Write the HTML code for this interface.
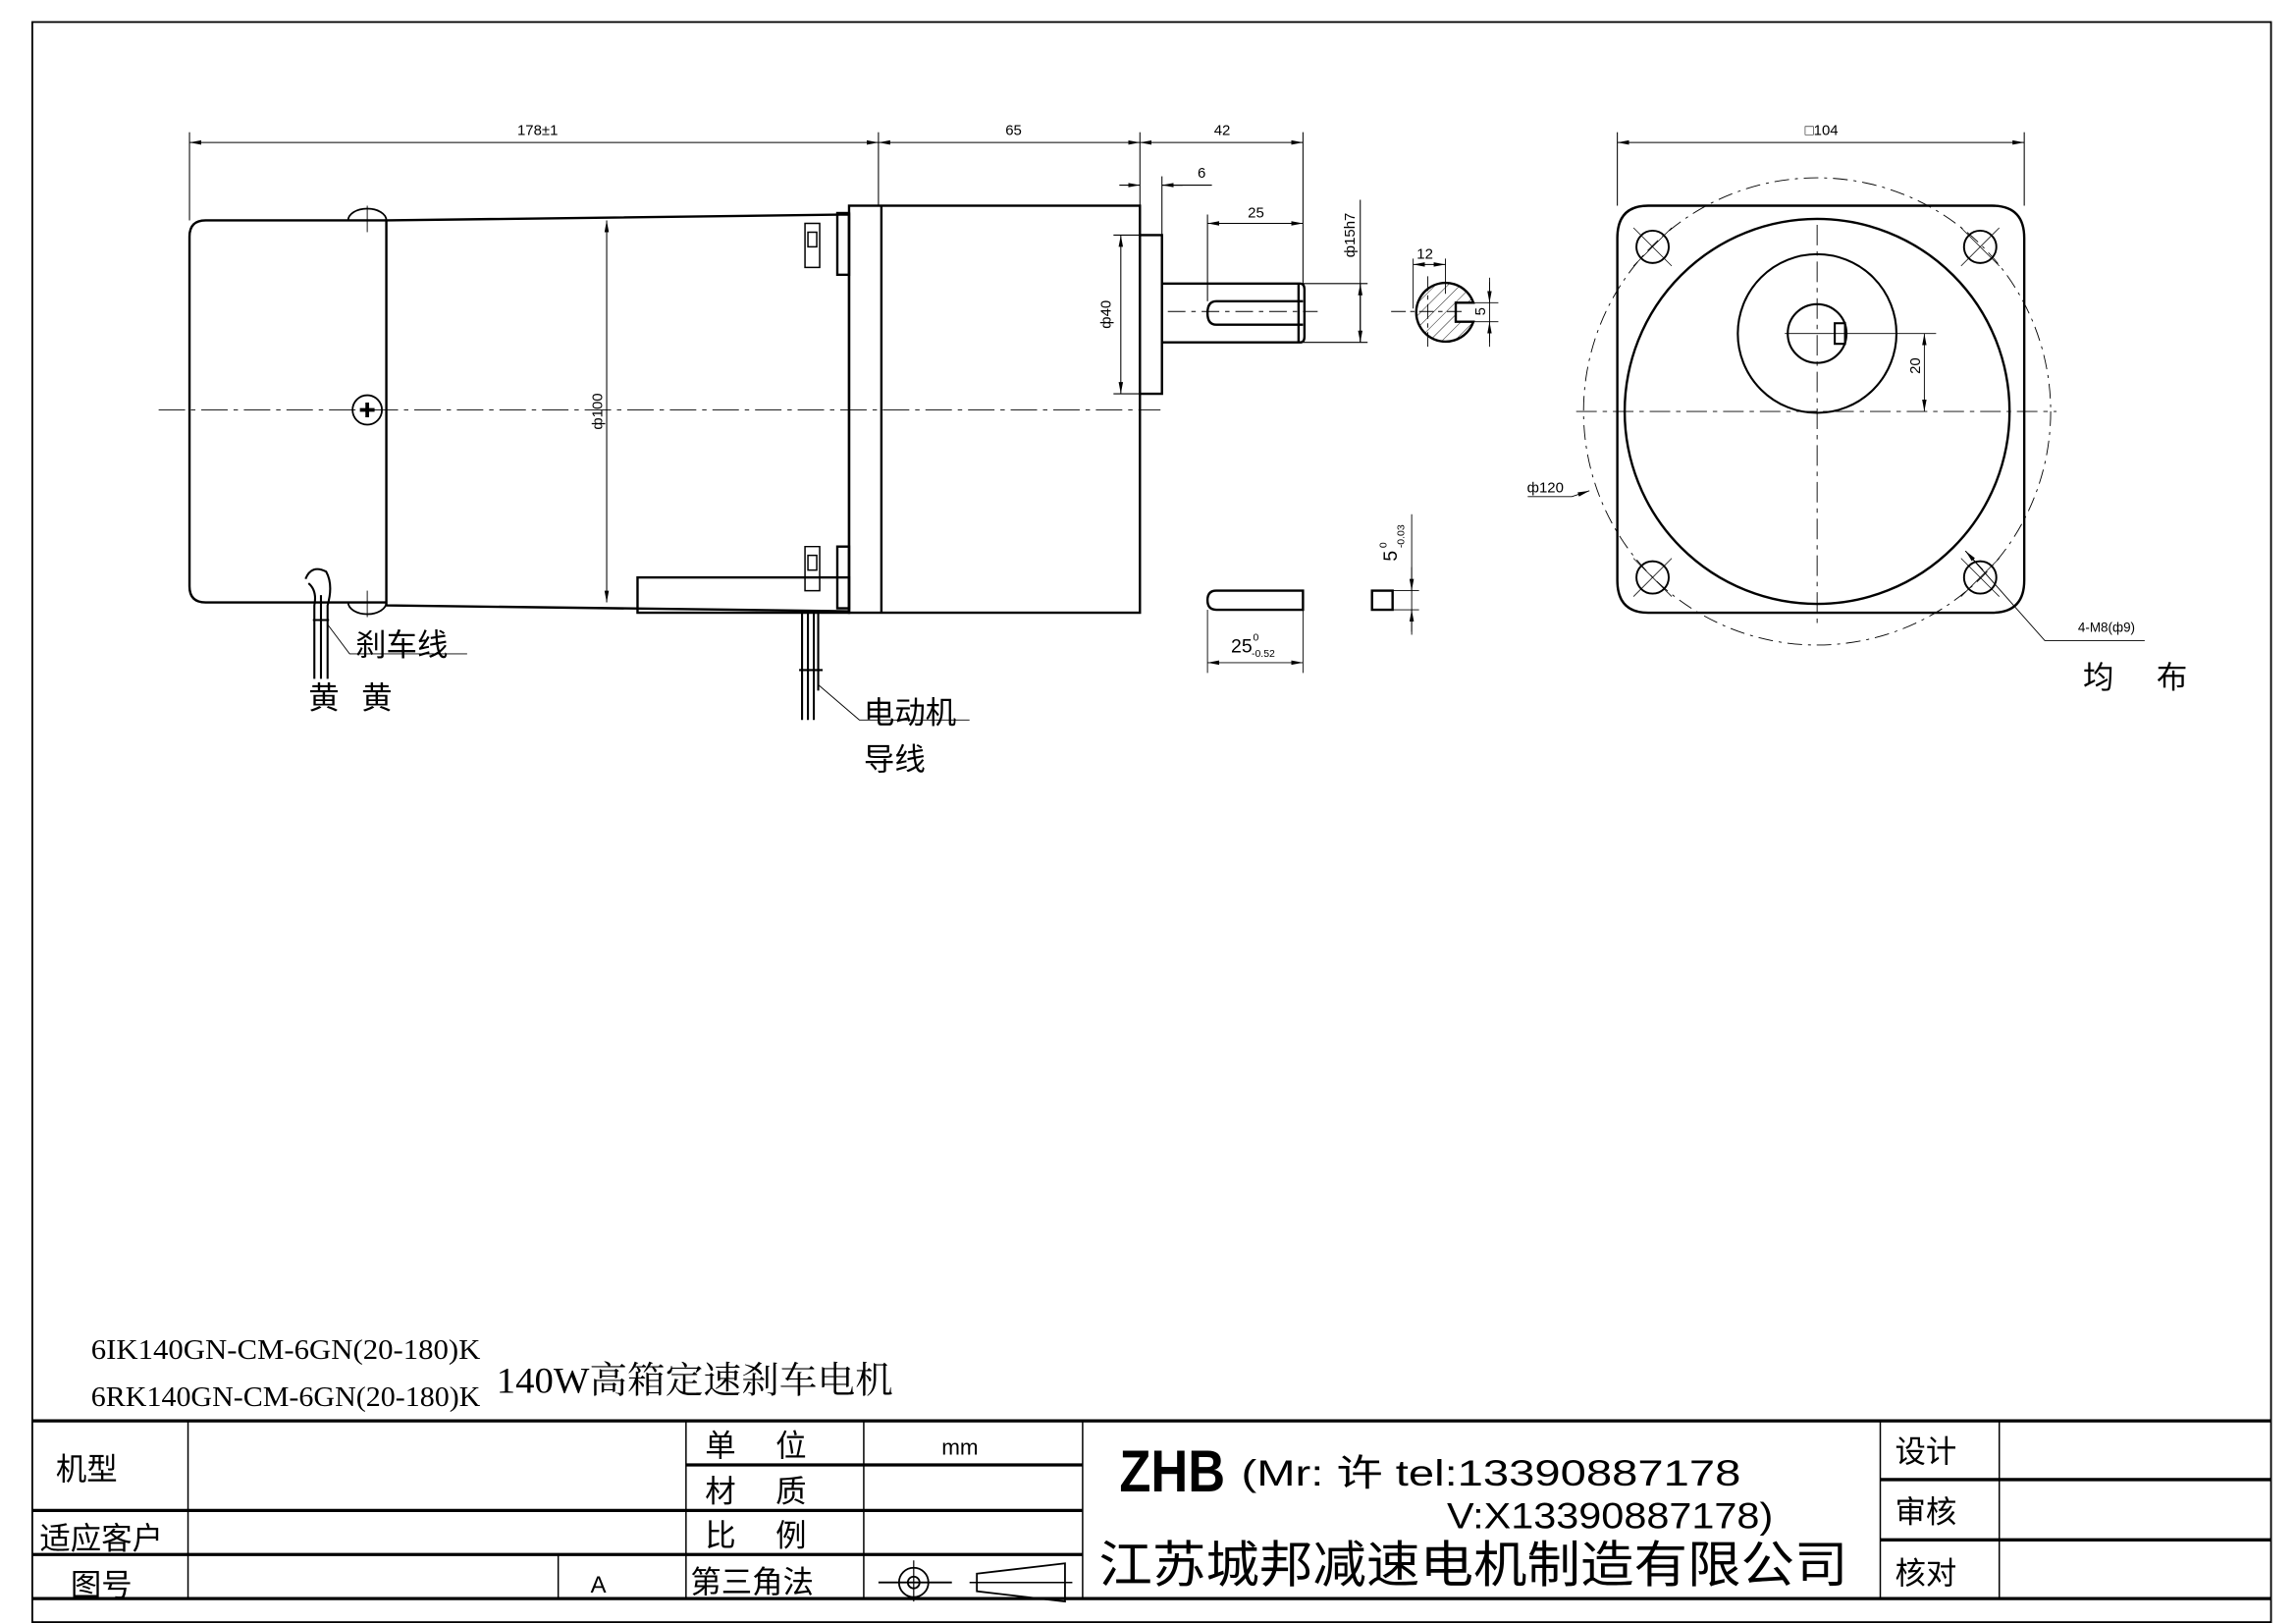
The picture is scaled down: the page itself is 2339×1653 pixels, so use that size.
<!DOCTYPE html>
<html><head><meta charset="utf-8"><style>
html,body{margin:0;padding:0;background:#fff}
svg{display:block}
text{font-family:"Liberation Sans","Noto Sans CJK SC",sans-serif;fill:#000}
.s{font-family:"Liberation Serif","Noto Serif CJK SC",serif}
</style></head><body>
<svg width="2339" height="1653" viewBox="0 0 1563 1104.6" preserveAspectRatio="none" xmlns="http://www.w3.org/2000/svg">
<defs>
<marker id="a" markerWidth="8" markerHeight="4" refX="8" refY="2" orient="auto-start-reverse" markerUnits="userSpaceOnUse"><path d="M0,0.5 L8,2 L0,3.5z" fill="#000"/></marker>
<pattern id="h" width="6" height="6" patternUnits="userSpaceOnUse" patternTransform="rotate(45)"><line x1="0" y1="0" x2="0" y2="6" stroke="#000" stroke-width="0.6"/></pattern>
</defs>
<g fill="none" stroke="#000">
<rect x="22" y="15" width="1524" height="1089" stroke-width="1.2"/>
<g stroke-width="2.2">
<line x1="22" y1="967" x2="1546" y2="967"/>
<line x1="22" y1="1088" x2="1546" y2="1088"/>
<line x1="467" y1="997" x2="737" y2="997"/>
<line x1="22" y1="1028" x2="737" y2="1028"/>
<line x1="22" y1="1058" x2="737" y2="1058"/>
<line x1="1280" y1="1007" x2="1546" y2="1007"/>
<line x1="1280" y1="1048" x2="1546" y2="1048"/>
</g>
<g stroke-width="1">
<line x1="128" y1="967" x2="128" y2="1088"/>
<line x1="380" y1="1058" x2="380" y2="1088"/>
<line x1="467" y1="967" x2="467" y2="1088"/>
<line x1="588" y1="967" x2="588" y2="1088"/>
<line x1="737" y1="967" x2="737" y2="1088"/>
<line x1="1280" y1="967" x2="1280" y2="1088"/>
<line x1="1361" y1="967" x2="1361" y2="1088"/>
</g>
<circle cx="622" cy="1077" r="10" stroke-width="1.2"/>
<circle cx="622" cy="1077" r="4" stroke-width="1.2"/>
<line x1="598" y1="1077" x2="648" y2="1077" stroke-width="1.2"/>
<line x1="622" y1="1062" x2="622" y2="1090" stroke-width="0.8"/>
<path d="M665,1071 L725,1064 L725,1090 L665,1083z" stroke-width="1.2"/>
<line x1="660" y1="1077" x2="730" y2="1077" stroke-width="1"/>

<g stroke-width="0.7">
<line x1="129" y1="90" x2="129" y2="150"/>
<line x1="598" y1="90" x2="598" y2="140"/>
<line x1="776" y1="90" x2="776" y2="140"/>
<line x1="887" y1="90" x2="887" y2="193"/>
<line x1="129" y1="97" x2="598" y2="97" marker-start="url(#a)" marker-end="url(#a)"/>
<line x1="598" y1="97" x2="776" y2="97" marker-start="url(#a)" marker-end="url(#a)"/>
<line x1="776" y1="97" x2="887" y2="97" marker-start="url(#a)" marker-end="url(#a)"/>
<line x1="791" y1="120" x2="791" y2="160"/>
<line x1="762" y1="126" x2="776" y2="126" marker-end="url(#a)"/>
<line x1="805" y1="126" x2="791" y2="126" marker-end="url(#a)"/>
<line x1="791" y1="126" x2="825" y2="126"/>
<line x1="822" y1="146" x2="822" y2="205"/>
<line x1="822" y1="152" x2="887" y2="152" marker-start="url(#a)" marker-end="url(#a)"/>
<line x1="413" y1="150" x2="413" y2="410" marker-start="url(#a)" marker-end="url(#a)"/>
<line x1="758" y1="160" x2="776" y2="160"/>
<line x1="758" y1="268" x2="776" y2="268"/>
<line x1="763" y1="160" x2="763" y2="268" marker-start="url(#a)" marker-end="url(#a)"/>
<line x1="887" y1="193" x2="931" y2="193"/>
<line x1="887" y1="233" x2="931" y2="233"/>
<line x1="926" y1="136" x2="926" y2="233"/>
<line x1="926" y1="193" x2="926" y2="233" marker-start="url(#a)" marker-end="url(#a)"/>
</g>
<line x1="108" y1="279" x2="790" y2="279" stroke-width="0.6" stroke-dasharray="18,4,3,4"/>
<line x1="795" y1="212" x2="897" y2="212" stroke-width="0.6" stroke-dasharray="12,4,3,4"/>

<g stroke-width="1.6">
<path d="M263,150 L140,150 Q129,150 129,161 L129,399 Q129,410 140,410 L263,410"/>
<path d="M263,150 L578,146 L578,416 L263,412 Z"/>
<rect x="578" y="140" width="198" height="277"/>
<line x1="600" y1="140" x2="600" y2="417"/>
<rect x="570" y="145" width="8" height="42"/>
<rect x="570" y="372" width="8" height="42"/>
<rect x="776" y="160" width="15" height="108"/>
<path d="M791,193 L885,193 Q888,193 888,197 L888,229 Q888,233 885,233 L791,233"/>
<line x1="884" y1="193" x2="884" y2="233"/>
<path d="M887,205 L828,205 Q822,205 822,213 Q822,221 828,221 L887,221"/>
<rect x="434" y="393" width="144" height="24"/>
<path d="M548,152 h10 v30 h-10z M550,158 h6 v10 h-6z" stroke-width="1"/>
<path d="M548,372 h10 v30 h-10z M550,378 h6 v10 h-6z" stroke-width="1"/>
</g>
<g stroke-width="1.2">
<path d="M237,150 A13,8 0 0 1 263,150 Z"/>
<path d="M237,410 A13,8 0 0 0 263,410 Z"/>
<circle cx="250" cy="279" r="10"/>
<path d="M245,279 h10 M250,274 v10" stroke-width="2.5"/>
<line x1="250" y1="140" x2="250" y2="158" stroke-width="0.6"/>
<line x1="250" y1="402" x2="250" y2="420" stroke-width="0.6"/>
</g>
<g stroke-width="1.4">
<path d="M208,394 Q212,384 222,389 Q227,398 223,412 L223,462"/>
<path d="M210,397 Q216,402 214,412 L214,462"/>
<line x1="218.5" y1="405" x2="218.5" y2="462"/>
<line x1="213" y1="422" x2="224" y2="422"/>
<path d="M223,425 L238,445 L318,445" stroke-width="0.6"/>
</g>
<g stroke-width="1.4">
<path d="M546,417 L546,490 M550,417 L550,490 M554,417 L554,490 M557,417 L557,470"/>
<line x1="544" y1="456" x2="560" y2="456"/>
<path d="M557,466 L585,490 L660,490" stroke-width="0.6"/>
</g>

<path d="M1003,206 A20,20 0 1 0 1003,219 L991,219 L991,206 Z" fill="url(#h)" stroke-width="1.6"/>
<g stroke-width="0.6">
<line x1="947" y1="212" x2="996" y2="212" stroke-dasharray="10,3,3,3"/>
<line x1="972" y1="188" x2="972" y2="238" stroke-dasharray="10,3,3,3"/>
<line x1="962" y1="176" x2="962" y2="210"/>
<line x1="984" y1="176" x2="984" y2="200"/>
<line x1="962" y1="180" x2="984" y2="180" marker-start="url(#a)" marker-end="url(#a)"/>
<line x1="991" y1="206" x2="1020" y2="206"/>
<line x1="991" y1="219" x2="1020" y2="219"/>
<line x1="1014" y1="189" x2="1014" y2="236"/>
<line x1="1014" y1="192" x2="1014" y2="206" marker-end="url(#a)"/>
<line x1="1014" y1="233" x2="1014" y2="219" marker-end="url(#a)"/>
</g>
<path d="M887,402 L828,402 Q822,402 822,408.5 Q822,415 828,415 L887,415 Z" stroke-width="1.6"/>
<g stroke-width="0.6">
<line x1="822" y1="415" x2="822" y2="458"/>
<line x1="887" y1="415" x2="887" y2="458"/>
<line x1="822" y1="451" x2="887" y2="451" marker-start="url(#a)" marker-end="url(#a)"/>
</g>
<rect x="934" y="402" width="14" height="13" stroke-width="1.6"/>
<g stroke-width="0.6">
<line x1="948" y1="402" x2="966" y2="402"/>
<line x1="948" y1="415" x2="966" y2="415"/>
<line x1="961" y1="350" x2="961" y2="432"/>
<line x1="961" y1="386" x2="961" y2="402" marker-end="url(#a)"/>
<line x1="961" y1="430" x2="961" y2="415" marker-end="url(#a)"/>
</g>

<g stroke-width="0.7">
<line x1="1101" y1="90" x2="1101" y2="140"/>
<line x1="1378" y1="90" x2="1378" y2="140"/>
<line x1="1101" y1="97" x2="1378" y2="97" marker-start="url(#a)" marker-end="url(#a)"/>
</g>
<path d="M1122,140 L1356,140 Q1378,140 1378,162 L1378,395 Q1378,417 1356,417 L1122,417 Q1101,417 1101,395 L1101,162 Q1101,140 1122,140 Z" stroke-width="1.6"/>
<circle cx="1237" cy="280" r="131" stroke-width="1.6"/>
<circle cx="1237" cy="280" r="159" stroke-width="0.6" stroke-dasharray="10,4,2,4"/>
<circle cx="1237" cy="227" r="54" stroke-width="1.4"/>
<circle cx="1237" cy="227" r="20" stroke-width="1.4"/>
<rect x="1249" y="220" width="7" height="14" stroke-width="1.4"/>
<g stroke-width="1.3">
<circle cx="1125" cy="168" r="11"/><circle cx="1348" cy="168" r="11"/>
<circle cx="1125" cy="393" r="11"/><circle cx="1348" cy="393" r="11"/>
</g>
<g stroke-width="0.5">
<path d="M1112,155 L1138,181 M1112,181 L1138,155"/>
<path d="M1335,155 L1361,181 M1335,181 L1361,155"/>
<path d="M1112,380 L1138,406 M1112,406 L1138,380"/>
<path d="M1335,380 L1361,406 M1335,406 L1361,380"/>
</g>
<g stroke-width="0.6">
<line x1="1237" y1="153" x2="1237" y2="428" stroke-dasharray="14,4,3,4"/>
<line x1="1073" y1="280" x2="1400" y2="280" stroke-dasharray="14,4,3,4"/>
<line x1="1215" y1="227" x2="1318" y2="227"/>
<line x1="1310" y1="227" x2="1310" y2="280" marker-start="url(#a)" marker-end="url(#a)"/>
<path d="M1040,338 L1070,338 L1082,334" marker-end="url(#a)"/>
<path d="M1338,375 L1392,436 L1460,436"/>
<line x1="1350" y1="388" x2="1338" y2="375" marker-end="url(#a)"/>
</g>
</g>

<g font-size="10" text-anchor="middle">
<text x="366" y="92">178±1</text>
<text x="690" y="92">65</text>
<text x="832" y="92">42</text>
<text x="818" y="121">6</text>
<text x="855" y="148">25</text>
<text x="970" y="176">12</text>
<text x="1240" y="92">□104</text>
<text transform="translate(410,280) rotate(-90)">ф100</text>
<text transform="translate(756,214) rotate(-90)">ф40</text>
<text transform="translate(922,160) rotate(-90)">ф15h7</text>
<text transform="translate(1011,212) rotate(-90)">5</text>
<text transform="translate(1307,249) rotate(-90)">20</text>
<text x="1052" y="335">ф120</text>
<text x="1434" y="430" font-size="9">4-M8(ф9)</text>
</g>
<text x="838" y="444" font-size="13">25</text>
<text x="853" y="436" font-size="7">0</text>
<text x="852" y="447" font-size="7">-0.52</text>
<text transform="translate(951,382) rotate(-90)" font-size="13">5</text>
<text transform="translate(944,373) rotate(-90)" font-size="7">0</text>
<text transform="translate(956,373) rotate(-90)" font-size="7">-0.03</text>

<g font-size="21">
<text x="242" y="446">刹车线</text>
<text x="210" y="482">黄</text><text x="246" y="482">黄</text>
<text x="588" y="492">电动机</text>
<text x="588" y="524">导线</text>
<text x="1418" y="468">均</text><text x="1468" y="468">布</text>
</g>

<text class="s" x="62" y="925" font-size="19" textLength="265" lengthAdjust="spacingAndGlyphs">6IK140GN-CM-6GN(20-180)K</text>
<text class="s" x="62" y="957" font-size="19" textLength="265" lengthAdjust="spacingAndGlyphs">6RK140GN-CM-6GN(20-180)K</text>
<text class="s" x="338" y="948" font-size="25" textLength="270" lengthAdjust="spacingAndGlyphs">140W高箱定速刹车电机</text>

<g font-size="21">
<text x="38" y="1007">机型</text>
<text x="27" y="1054">适应客户</text>
<text x="48" y="1086">图号</text>
<text x="480" y="991">单</text><text x="528" y="991">位</text>
<text x="480" y="1022">材</text><text x="528" y="1022">质</text>
<text x="480" y="1052">比</text><text x="528" y="1052">例</text>
<text x="470" y="1084">第三角法</text>
<text x="1290" y="995">设计</text>
<text x="1290" y="1036">审核</text>
<text x="1290" y="1078">核对</text>
</g>
<text x="402" y="1084" font-size="16">A</text>
<text x="641" y="990" font-size="15">mm</text>
<text x="762" y="1015" font-size="40" font-weight="bold" textLength="72" lengthAdjust="spacingAndGlyphs">ZHB</text>
<text x="845" y="1011" font-size="25" textLength="340" lengthAdjust="spacingAndGlyphs">(Mr: 许 tel:13390887178</text>
<text x="985" y="1040" font-size="25" textLength="222" lengthAdjust="spacingAndGlyphs">V:X13390887178)</text>
<text x="748" y="1077" font-size="34" textLength="510" lengthAdjust="spacingAndGlyphs">江苏城邦减速电机制造有限公司</text>
</svg>
</body></html>
